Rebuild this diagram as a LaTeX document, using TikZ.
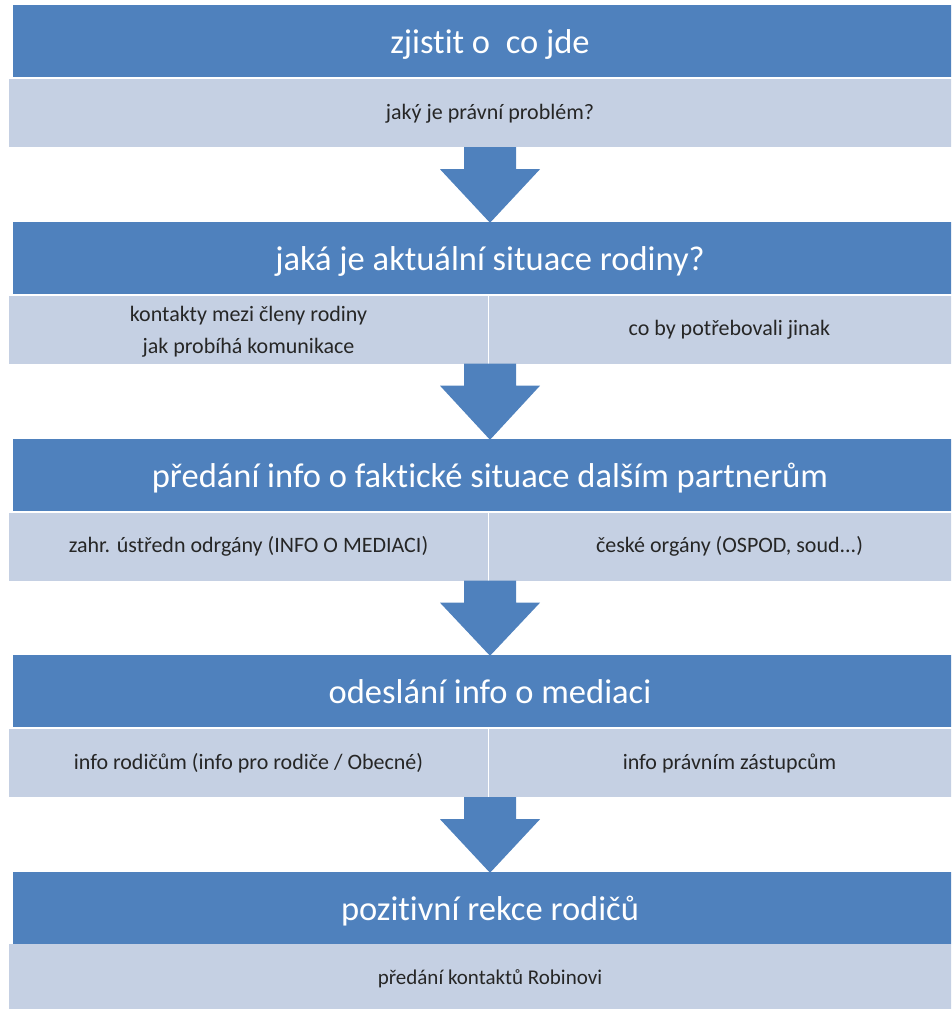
\documentclass[tikz,border=0pt]{standalone}
\usepackage{fontspec}
\setmainfont[Ligatures=NoCommon]{Carlito}
\usetikzlibrary{calc}
\definecolor{hdr}{HTML}{4F81BD}
\definecolor{sub}{HTML}{C5D0E3}
\tikzset{
  hdrbox/.style={fill=hdr, draw=none, minimum width=954pt, minimum height=72pt, inner sep=0pt,
    text=white, font=\fontsize{34.5}{40}\selectfont, text height=30pt, text depth=6pt},
  subbox/.style={fill=sub, draw=none, minimum height=68pt, inner sep=0pt,
    text=black!85, font=\fontsize{22}{32}\selectfont, align=center},
  subfull/.style={subbox, minimum width=962pt},
  subleft/.style={subbox, minimum width=479pt},
  subright/.style={subbox, minimum width=481pt},
  blockarrow/.style={fill=hdr, draw=none}
}
\begin{document}
\begin{tikzpicture}[x=1pt,y=-1pt]
\useasboundingbox (0,0) rectangle (951,1009);
\clip (0,0) rectangle (951,1009);
% row 1
\node[hdrbox] (h1) at (490,41) {zjistit o \ co jde};
\node[subfull] (s1) at (490,113) {\strut jaký je právní problém?};
% row 2
\node[hdrbox] (h2) at (490,258) {jaká je aktuální situace rodiny?};
\node[subleft] (s2l) at (248.5,329.5) {\rule{0pt}{20pt}kontakty mezi členy rodiny\\jak probíhá komunikace};
\node[subright] (s2r) at (729.5,329.5) {\strut co by potřebovali jinak};
% row 3
\node[hdrbox] (h3) at (490,475) {předání info o faktické situace dalším partnerům};
\node[subleft] (s3l) at (248.5,546.5) {\strut zahr. ústředn odrgány (INFO O MEDIACI)};
\node[subright] (s3r) at (729.5,546.5) {\strut české orgány (OSPOD, soud...)};
% row 4
\node[hdrbox] (h4) at (490,691) {odeslání info o mediaci};
\node[subleft] (s4l) at (248.5,763) {\strut info rodičům (info pro rodiče / Obecné)};
\node[subright] (s4r) at (729.5,763) {\strut info právním zástupcům};
% row 5
\node[hdrbox] (h5) at (490,908) {pozitivní rekce rodičů};
\node[subfull, minimum height=66pt, text height=20pt, text depth=6pt] (s5) at (490,977) {\fontsize{21}{24}\selectfont předání kontaktů Robinovi};
% block arrows
\foreach \a/\b in {s1/h2, s2l/h3, s3l/h4, s4l/h5}{
  \path let \p1=(\a.south), \p2=(\b.north) in
    [blockarrow] (464,\y1) -- (516,\y1) -- (516,\y1-22) -- (540,\y1-22)
      -- (490,\y2-1) -- (440,\y1-22) -- (464,\y1-22) -- cycle;
}
\end{tikzpicture}
\end{document}
